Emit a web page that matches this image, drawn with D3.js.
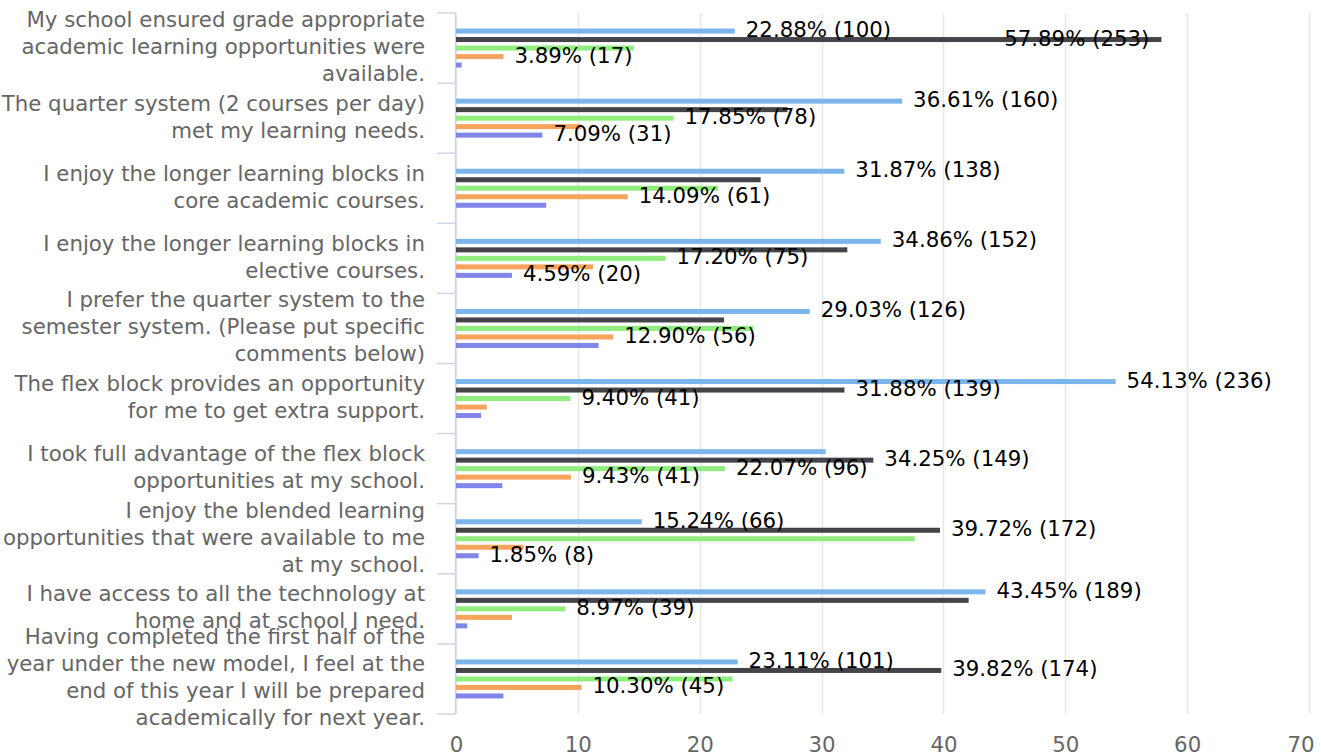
<!DOCTYPE html>
<html>
<head>
<meta charset="utf-8">
<script src="https://cdn.jsdelivr.net/npm/d3@7"></script>
<style>
  body { margin: 0; background: #fff; }
  svg { display: block; font-family: "DejaVu Sans", Verdana, sans-serif; }
</style>
</head>
<body>
<div id="chart"></div>
<script>
// categories, already broken into the lines shown on the chart
let categories = [
  ["My school ensured grade appropriate", "academic learning opportunities were", "available."],
  ["The quarter system (2 courses per day)", "met my learning needs."],
  ["I enjoy the longer learning blocks in", "core academic courses."],
  ["I enjoy the longer learning blocks in", "elective courses."],
  ["I prefer the quarter system to the", "semester system. (Please put specific", "comments below)"],
  ["The flex block provides an opportunity", "for me to get extra support."],
  ["I took full advantage of the flex block", "opportunities at my school."],
  ["I enjoy the blended learning", "opportunities that were available to me", "at my school."],
  ["I have access to all the technology at", "home and at school I need."],
  ["Having completed the first half of the", "year under the new model, I feel at the", "end of this year I will be prepared", "academically for next year."]
];

let seriesNames = ["Series 1", "Series 2", "Series 3", "Series 4", "Series 5"];
let seriesColors = ["#7cb5ec", "#434348", "#90ed7d", "#f7a35c", "#8085e9"];

// percent values
let pct1 = [22.88, 36.61, 31.87, 34.86, 29.03, 54.13, 30.34, 15.24, 43.45, 23.11];
let pct2 = [57.89, 27.2, 25.0, 32.11, 22.0, 31.88, 34.25, 39.72, 42.07, 39.82];
let pct3 = [14.6, 17.85, 21.5, 17.20, 24.4, 9.40, 22.07, 37.64, 8.97, 22.7];
let pct4 = [3.89, 10.3, 14.09, 11.24, 12.90, 2.52, 9.43, 5.54, 4.6, 10.30];
let pct5 = [0.46, 7.09, 7.4, 4.59, 11.7, 2.06, 3.8, 1.85, 0.92, 3.89];

// response counts
let cnt1 = [100, 160, 138, 152, 126, 236, 132, 66, 189, 101];
let cnt2 = [253, 119, 108, 140, 96, 139, 149, 172, 183, 174];
let cnt3 = [64, 78, 93, 75, 106, 41, 96, 163, 39, 99];
let cnt4 = [17, 45, 61, 49, 56, 11, 41, 24, 20, 45];
let cnt5 = [2, 31, 32, 20, 51, 9, 17, 8, 4, 17];

// which data labels survive the overlap check in the original
let show1 = [1, 1, 1, 1, 1, 1, 0, 1, 1, 1];
let show2 = [1, 0, 0, 0, 0, 1, 1, 1, 0, 1];
let show3 = [0, 1, 0, 1, 0, 1, 1, 0, 1, 0];
let show4 = [1, 0, 1, 0, 1, 0, 1, 0, 0, 1];
let show5 = [0, 1, 0, 1, 0, 0, 0, 1, 0, 0];

let xTicks = [0, 10, 20, 30, 40, 50, 60, 70];

let pctAll = [pct1, pct2, pct3, pct4, pct5];
let cntAll = [cnt1, cnt2, cnt3, cnt4, cnt5];
let showAll = [show1, show2, show3, show4, show5];

let width = 1321, height = 756;
let plotLeft = 456, plotRight = 1309, plotTop = 13, plotBottom = 714;
let fontSize = 21.3;

let drawing = d3.select("#chart")
  .append("svg")
  .attr("width", width)
  .attr("height", height);

let x = d3.scaleLinear().domain([0, 70]).range([plotLeft, plotRight]);
let y = d3.scaleBand().domain(d3.range(categories.length)).range([plotTop, plotBottom]);

// vertical grid lines
drawing.append("g")
  .selectAll("line")
  .data(xTicks)
  .join("line")
  .attr("x1", d => Math.round(x(d)) + 0.5)
  .attr("x2", d => Math.round(x(d)) + 0.5)
  .attr("y1", plotTop)
  .attr("y2", plotBottom)
  .attr("stroke", "#e6e6e6")
  .attr("stroke-width", 1.5);

// x axis labels
let xAxis = drawing.append("g")
  .attr("transform", "translate(0," + 752 + ")")
  .call(d3.axisBottom(x).tickValues(xTicks).tickSize(0).tickPadding(0));
xAxis.select(".domain").remove();
xAxis.selectAll("text")
  .attr("font-size", fontSize)
  .attr("font-family", "DejaVu Sans, sans-serif")
  .attr("fill", "#666666")
  .attr("dy", 0);
// last label is pushed in so it stays inside the picture
xAxis.selectAll(".tick")
  .filter(d => d === 70)
  .select("text")
  .attr("text-anchor", "end")
  .attr("x", 5);

// y axis line and ticks between categories
drawing.append("line")
  .attr("x1", 455.5).attr("x2", 455.5)
  .attr("y1", plotTop).attr("y2", plotBottom)
  .attr("stroke", "#ccd6eb")
  .attr("stroke-width", 1.5);

let bounds = d3.range(categories.length + 1).map(i => plotTop + i * y.bandwidth());
drawing.append("g")
  .selectAll("line")
  .data(bounds)
  .join("line")
  .attr("x1", 437).attr("x2", 456)
  .attr("y1", d => d).attr("y2", d => d)
  .attr("stroke", "#ccd6eb")
  .attr("stroke-width", 1.5);

// category labels
let catLabels = drawing.append("g")
  .selectAll("text")
  .data(categories)
  .join("text")
  .attr("text-anchor", "end")
  .attr("font-size", fontSize)
  .attr("fill", "#666666");

catLabels.each(function(lines, i) {
  let cy = y(i) + y.bandwidth() / 2;
  d3.select(this).selectAll("tspan")
    .data(lines)
    .join("tspan")
    .attr("x", 425)
    .attr("y", (d, k) => cy + (k - (lines.length - 1) / 2) * 27 + 6)
    .text(d => d);
});

// bars
let step = 8.5, barH = 5;
pctAll.forEach((values, s) => {
  drawing.append("g")
    .selectAll("rect")
    .data(values)
    .join("rect")
    .attr("x", x(0))
    .attr("y", (d, i) => y(i) + y.bandwidth() / 2 + (s - 2) * step - barH / 2)
    .attr("width", d => x(d) - x(0))
    .attr("height", barH)
    .attr("fill", seriesColors[s]);
});

// data labels
pctAll.forEach((values, s) => {
  let g = drawing.append("g");
  values.forEach((v, i) => {
    if (!showAll[s][i]) return;
    let cy = y(i) + y.bandwidth() / 2 + (s - 2) * step;
    let t = g.append("text")
      .attr("x", x(v) + 11)
      .attr("y", cy + 6)
      .attr("font-size", fontSize)
      .attr("fill", "#000")
      .text(v.toFixed(2) + "% (" + cntAll[s][i] + ")");
    let w = t.node().getComputedTextLength();
    if (x(v) + 11 + w > plotRight) {
      t.attr("text-anchor", "end").attr("x", x(v) - 12);
    }
  });
});
</script>
</body>
</html>
